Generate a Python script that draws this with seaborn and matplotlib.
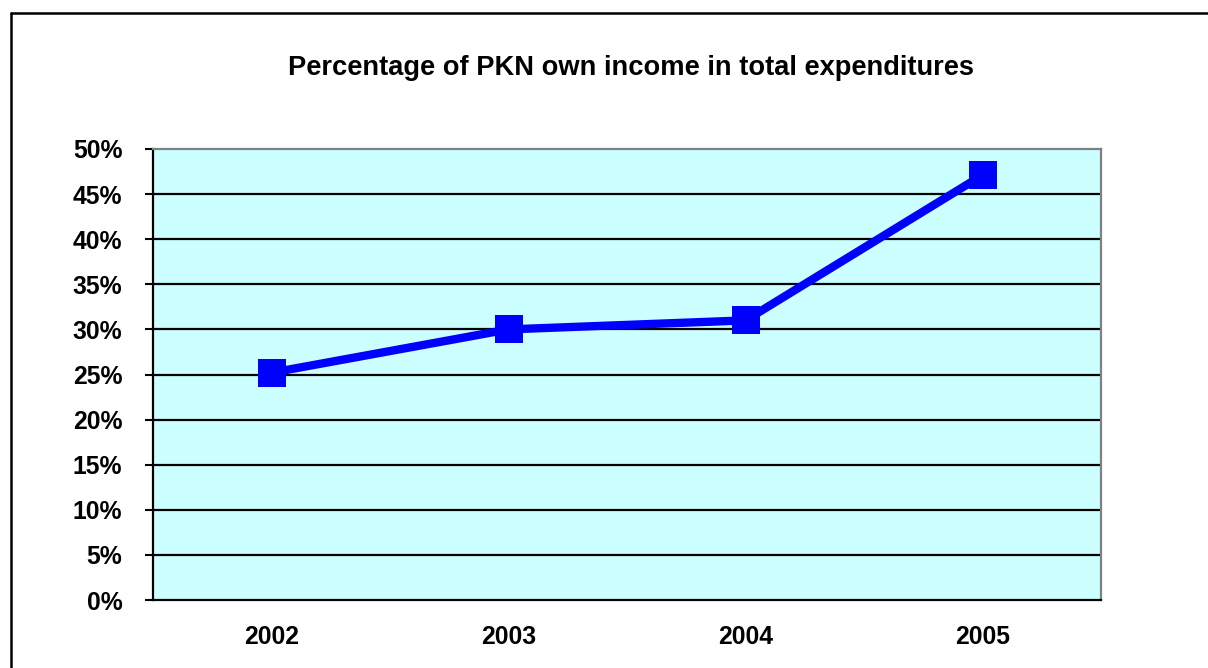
import pandas as pd
import numpy as np
import matplotlib.pyplot as plt
import seaborn as sns
from matplotlib.lines import Line2D

# dados
anos = ["2002", "2003", "2004", "2005"]
percentual = [25.2, 30.0, 31.0, 47.1]
yticks = [0, 5, 10, 15, 20, 25, 30, 35, 40, 45, 50]
titulo = "Percentage of PKN own income in total expenditures"

df = pd.DataFrame({"ano": anos, "pct": percentual})

sns.set_style("white")
plt.rcParams['font.family'] = ['Liberation Sans', 'DejaVu Sans']
plt.rcParams['text.color'] = 'black'
plt.rcParams['xtick.color'] = 'black'
plt.rcParams['ytick.color'] = 'black'

fig = plt.figure(figsize=(12.08, 6.68), dpi=100)
ax = fig.add_axes([153 / 1208, 1 - 600 / 668, 948 / 1208, 451 / 668])
ax.set_facecolor("#CCFFFF")

sns.lineplot(data=df, x="ano", y="pct", ax=ax, color="#0000FF", linewidth=6,
             marker="s", markersize=20, markeredgewidth=0, sort=False, zorder=5)

ax.set_xlim(-0.5, 3.5)
ax.set_ylim(0, 50)
ax.set_yticks(yticks)
ax.set_yticklabels([f"{v}%" for v in yticks], fontsize=17.8, fontweight="bold")
ax.set_xticks(range(len(anos)))
ax.set_xticklabels(anos, fontsize=17.8, fontweight="bold")
ax.set_xticks(np.arange(-0.5, 4, 1), minor=True)
ax.tick_params(axis="x", which="major", length=0, pad=18)
ax.tick_params(axis="x", which="minor", length=6, width=1.5, color="black", direction="out")
ax.tick_params(axis="y", length=6, width=1.5, color="black", direction="out", left=True, pad=16)
ax.set_xlabel("")
ax.set_ylabel("")

for v in yticks[1:-1]:
    ax.axhline(v, color="black", linewidth=1.6, zorder=1)

for s in ["left", "bottom"]:
    ax.spines[s].set_color("black")
    ax.spines[s].set_linewidth(1.6)
for s in ["top", "right"]:
    ax.spines[s].set_color("#808080")
    ax.spines[s].set_linewidth(1.6)

fig.text(631 / 1208, 1 - 68 / 668, titulo, ha="center", va="center",
         fontsize=19.6, fontweight="bold", color="black")

# moldura externa
fig.add_artist(Line2D([10.5 / 1208, 1.0], [1 - 12.5 / 668] * 2, color="black", linewidth=1.8))
fig.add_artist(Line2D([10.5 / 1208] * 2, [0.0, 1 - 12.5 / 668], color="black", linewidth=1.8))

fig.savefig("out.png", dpi=100)
